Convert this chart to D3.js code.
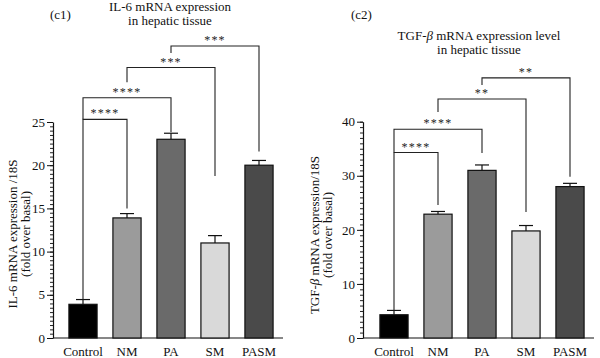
<!DOCTYPE html>
<html><head><meta charset="utf-8">
<script src="https://cdn.jsdelivr.net/npm/d3@7"></script>
<style>
body{margin:0;background:#fff;}
svg{display:block;font-family:"Liberation Serif","Times New Roman",serif;}
svg text{font-family:"Liberation Serif","Times New Roman",serif;}
</style></head>
<body><svg id="c" width="600" height="358"></svg>
<script>
const categories = ["Control","NM","PA","SM","PASM"];
const barColors = ["#000000","#9b9b9b","#6a6a6a","#d9d9d9","#4a4a4a"];

// Panel c1: IL-6
const il6Mean = [3.9, 13.9, 23.0, 11.0, 20.0];
const il6Err  = [0.55, 0.5, 0.7, 0.85, 0.55];
const il6Ticks = [0,5,10,15,20,25];
// brackets: [fromIdx, toIdx, level, leftEnd, rightEnd, stars]
const il6Brackets = [
  [0,1,25.3,4.45,15.0,"****"],
  [0,2,27.8,25.3,23.8,"****"],
  [1,3,31.3,29.6,18.75,"***"],
  [2,4,33.8,33.0,21.6,"***"]
];

// Panel c2: TGF-beta
const tgfMean = [4.3, 22.9, 31.0, 19.8, 28.0];
const tgfErr  = [0.8, 0.5, 1.0, 1.0, 0.6];
const tgfTicks = [0,10,20,30,40];
const tgfBrackets = [
  [0,1,34.3,5.1,24.6,"****"],
  [0,2,38.6,34.3,34.2,"****"],
  [1,3,44.2,41.8,23.3,"**"],
  [2,4,48.1,46.8,29.8,"**"]
];

const svg = d3.select("#c");

function panel(o){
  const g = svg.append("g");
  const x = d3.scaleBand().domain(categories).range(o.xr).paddingInner(0.36).paddingOuter(0.18);
  const y = d3.scaleLinear().domain([0,o.ymax]).range([338,o.ytop]);
  const ax = o.axisX;
  // minor ticks
  g.append("g").attr("transform",`translate(${ax},0)`)
    .call(d3.axisLeft(y).tickValues(d3.range(0,o.ymax+1e-9,o.minor)).tickSize(3).tickFormat(""))
    .call(s=>{s.select(".domain").remove(); s.selectAll("line").attr("stroke","#222");});
  // major
  g.append("g").attr("transform",`translate(${ax},0)`)
    .call(d3.axisLeft(y).tickValues(o.ticks).tickSize(6).tickPadding(2).tickSizeOuter(0))
    .call(s=>{s.select(".domain").attr("stroke","#111").attr("stroke-width",1.2);
      s.selectAll("line").attr("stroke","#111");
      s.selectAll("text").attr("font-size",13).attr("font-family","Liberation Serif").attr("fill","#111");});
  // x axis
  g.append("g").attr("transform","translate(0,338)")
    .call(d3.axisBottom(x).tickSize(0).tickPadding(9))
    .call(s=>{s.select(".domain").attr("d",`M${ax},0H${o.xEnd}`).attr("stroke","#111").attr("stroke-width",1.2);
      s.selectAll("text").attr("font-size",13).attr("font-family","Liberation Serif").attr("fill","#111");});
  // error bars
  const eb = g.append("g");
  categories.forEach((c,i)=>{
    const cx = x(c)+x.bandwidth()/2;
    eb.append("line").attr("x1",cx).attr("x2",cx).attr("y1",y(o.mean[i])).attr("y2",y(o.mean[i]+o.err[i])).attr("stroke","#111").attr("stroke-width",1.2);
    eb.append("line").attr("x1",cx-7).attr("x2",cx+7).attr("y1",y(o.mean[i]+o.err[i])).attr("y2",y(o.mean[i]+o.err[i])).attr("stroke","#111").attr("stroke-width",1.2);
  });
  // bars
  g.selectAll("rect.bar").data(o.mean).join("rect").attr("class","bar")
    .attr("x",(d,i)=>x(categories[i])).attr("width",x.bandwidth())
    .attr("y",d=>y(d)).attr("height",d=>338-y(d))
    .attr("fill",(d,i)=>barColors[i]).attr("stroke","#111").attr("stroke-width",1.2);
  // brackets
  const bg = g.append("g");
  o.brackets.forEach(b=>{
    const x1 = x(categories[b[0]])+x.bandwidth()/2, x2 = x(categories[b[1]])+x.bandwidth()/2;
    const yl = y(b[2]);
    bg.append("path").attr("d",`M${x1},${y(b[3])}V${yl}H${x2}V${y(b[4])}`)
      .attr("fill","none").attr("stroke","#222").attr("stroke-width",1.1);
    bg.append("text").attr("x",(x1+x2)/2).attr("y",yl-2).attr("text-anchor","middle")
      .attr("font-size",12).attr("letter-spacing",1.2).attr("fill","#222").text(b[5]);
  });
  // titles
  o.title.forEach((t,i)=>{
    g.append("text").attr("x",o.titleX).attr("y",o.titleY+i*13.5).attr("text-anchor","middle")
      .attr("font-size",13).attr("fill","#111").html(t);
  });
  g.append("text").attr("x",o.tagX).attr("y",19).attr("font-size",13).attr("fill","#111").text(o.tag);
  // y label
  o.ylab.forEach((t,i)=>{
    g.append("text").attr("transform",`translate(${o.ylabX+i*13},${o.ylabY}) rotate(-90)`)
      .attr("text-anchor","middle").attr("font-size",13).attr("fill","#111").html(t);
  });
}

panel({xr:[61,281], ymax:25, ytop:122, ticks:il6Ticks, minor:0.5, axisX:53, xEnd:283,
  mean:il6Mean, err:il6Err, brackets:il6Brackets,
  title:["IL-6 mRNA expression","in hepatic tissue"], titleX:170, titleY:11,
  tag:"(c1)", tagX:50, ylab:["IL-6 mRNA expression /18S","(fold over basal)"], ylabX:17, ylabY:234});

panel({xr:[372,592], ymax:40, ytop:121.7, ticks:tgfTicks, minor:1, axisX:363, xEnd:594,
  mean:tgfMean, err:tgfErr, brackets:tgfBrackets,
  title:["TGF-<tspan font-style='italic'>β</tspan> mRNA expression level","in hepatic tissue"], titleX:479, titleY:40,
  tag:"(c2)", tagX:351, ylab:["TGF-<tspan font-style='italic'>β</tspan> mRNA expression/18S","(fold over basal)"], ylabX:319, ylabY:235});
</script>
</body></html>
